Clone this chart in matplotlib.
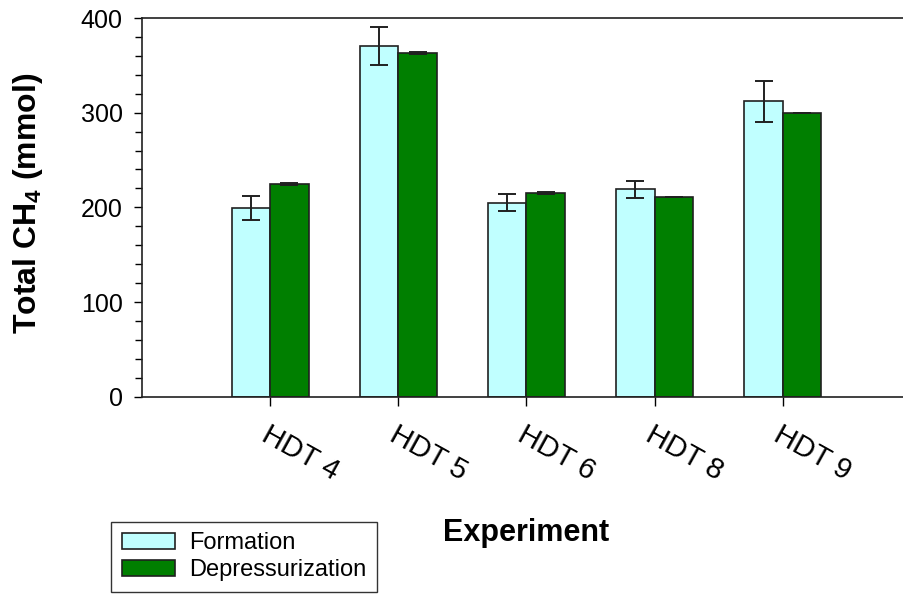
import matplotlib
matplotlib.use("Agg")
import matplotlib.pyplot as plt
import numpy as np
from matplotlib.ticker import MultipleLocator

plt.rcParams['font.family'] = ['Liberation Sans', 'DejaVu Sans']
plt.rcParams['mathtext.fontset'] = 'custom'
plt.rcParams['mathtext.rm'] = 'Liberation Sans'
plt.rcParams['mathtext.bf'] = 'Liberation Sans:bold'
plt.rcParams['mathtext.default'] = 'bf'

# --- Datos ---
experimentos = ['HDT 4', 'HDT 5', 'HDT 6', 'HDT 8', 'HDT 9']
formacion = [199, 370, 205, 219, 312]
formacion_err = [12.5, 20, 8.7, 9.2, 21.8]
despresurizacion = [225, 363, 215, 211, 300]
despresurizacion_err = [1, 1, 1, 0, 0]

color_form = '#C0FFFF'
color_desp = '#007F00'

fig = plt.figure(figsize=(9.04, 5.95), dpi=100)
ax = fig.add_axes([142 / 904, 198.3 / 595, 769 / 904, 378.7 / 595])

x = np.arange(len(experimentos))
ancho = 0.3
err_kw = dict(ecolor='#202020', elinewidth=1.4, capsize=6.2, capthick=1.4)

ax.bar(x - ancho / 2, formacion, ancho, yerr=formacion_err, color=color_form,
       edgecolor='#202020', linewidth=1.2, label='Formation', error_kw=err_kw)
ax.bar(x + ancho / 2, despresurizacion, ancho, yerr=despresurizacion_err,
       color=color_desp, edgecolor='#202020', linewidth=1.2,
       label='Depressurization', error_kw=err_kw)

ax.set_xlim(-1, 5)
ax.set_ylim(0, 400)
ax.yaxis.set_major_locator(MultipleLocator(100))
ax.yaxis.set_minor_locator(MultipleLocator(20))
ax.set_xticks(x)
ax.set_xticklabels(experimentos, rotation=-29, ha='left', va='top',
                   rotation_mode='anchor', fontsize=21)
ax.tick_params(axis='y', which='major', length=6, width=1, labelsize=18, pad=8)
ax.tick_params(axis='y', which='minor', length=5, width=1)
ax.tick_params(axis='x', which='major', length=6.5, width=1, pad=11)

for lado in ['left', 'bottom', 'top']:
    ax.spines[lado].set_linewidth(1.2)
    ax.spines[lado].set_color('#202020')
ax.spines['right'].set_visible(False)

ax.set_ylabel('Total CH$_4$ (mmol)', fontsize=23, fontweight='bold')
ax.set_xlabel('Experiment', fontsize=22, fontweight='bold')
ax.yaxis.set_label_coords(-0.126, 0.51)
ax.xaxis.set_label_coords(0.5, -0.32)

fig.legend(loc='lower left', bbox_to_anchor=(111 / 904, 3.3 / 595),
           borderaxespad=0, fontsize=17, frameon=True, fancybox=False,
           edgecolor='black', handlelength=2.25, handleheight=0.65,
           labelspacing=0.2, borderpad=0.45, handletextpad=0.6)
fig.legends[0].get_frame().set_linewidth(1.0)

fig.savefig('out.png', dpi=100)
